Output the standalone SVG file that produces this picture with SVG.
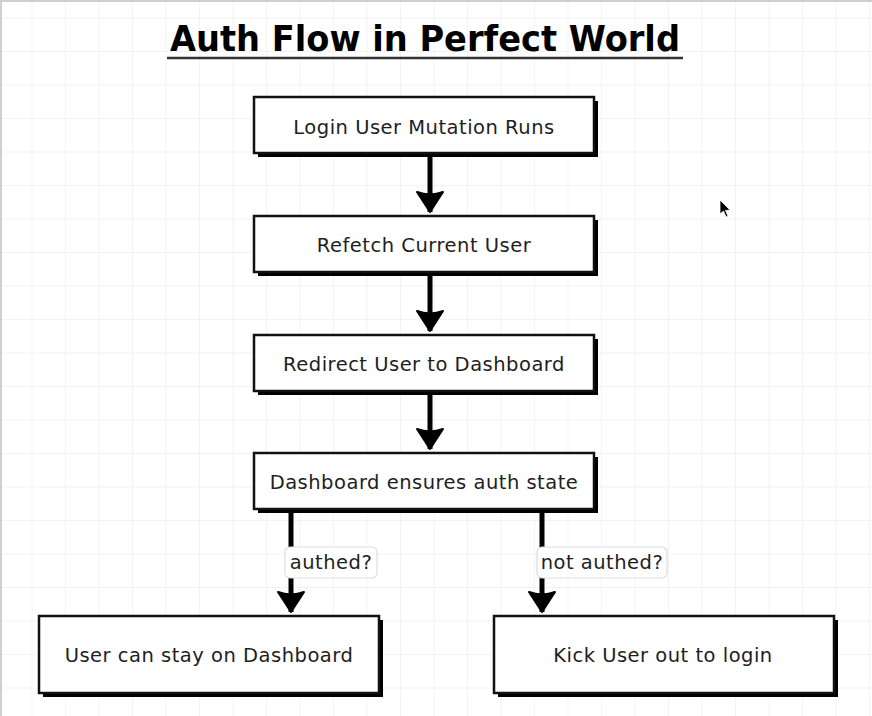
<svg xmlns="http://www.w3.org/2000/svg" width="872" height="716" viewBox="0 0 872 716">
<defs>
<pattern id="grid" x="-1" y="-15" width="33.5" height="33.5" patternUnits="userSpaceOnUse">
<path d="M33.5 0V33.5M0 33.5H33.5" fill="none" stroke="#e8e8e8" stroke-width="1"/>
</pattern>
<marker id="ah2" markerUnits="userSpaceOnUse" markerWidth="26" markerHeight="28" refX="22" refY="14" orient="auto" viewBox="0 0 24 28">
<path d="M2 1 Q7 14 2 27 L22 14 Z" fill="#000" stroke="#000" stroke-width="2" stroke-linejoin="round"/>
</marker>
</defs>
<style>
.sh{fill:#000}
.bx{fill:#fff;stroke:#111;stroke-width:2.5}
.t{font-family:"DejaVu Sans","Liberation Sans",sans-serif;font-size:19.5px;letter-spacing:0.5px;fill:#1e1e1e;text-anchor:middle}
.lb{fill:#fff;stroke:#ddd;stroke-width:1.2}
.ln{fill:none;stroke:#000;stroke-width:5}
</style>
<rect width="872" height="716" fill="#fff"/>
<rect width="872" height="716" fill="url(#grid)"/>
<path d="M1 716V1H872" fill="none" stroke="#cfcfcf" stroke-width="2"/>

<g id="title">
<text x="425" y="51" font-family="'DejaVu Sans','Liberation Sans',sans-serif" font-weight="bold" font-size="35" fill="#000" text-anchor="middle" textLength="510" lengthAdjust="spacingAndGlyphs">Auth Flow in Perfect World</text>
<line x1="167" y1="58" x2="683" y2="58" stroke="#333" stroke-width="2.5"/>
</g>

<g id="connectors">
<path class="ln" d="M430 157V212" marker-end="url(#ah2)"/>
<path class="ln" d="M430 276V331" marker-end="url(#ah2)"/>
<path class="ln" d="M430 395V449" marker-end="url(#ah2)"/>
<path class="ln" d="M291 512V612" marker-end="url(#ah2)"/>
<path class="ln" d="M542 512V612" marker-end="url(#ah2)"/>
<g id="label-authed">
<rect class="lb" x="285" y="547" width="92" height="31" rx="5"/>
<text class="t" x="331" y="569">authed?</text>
</g>
<g id="label-not-authed">
<rect class="lb" x="537" y="547" width="130" height="31" rx="5"/>
<text class="t" x="602" y="569">not authed?</text>
</g>
</g>

<g id="n1">
<rect class="sh" x="258" y="101" width="340" height="56"/>
<rect class="bx" x="254" y="97" width="340" height="56"/>
<text class="t" x="424" y="134">Login User Mutation Runs</text>
</g>
<g id="n2">
<rect class="sh" x="258" y="220" width="340" height="56"/>
<rect class="bx" x="254" y="216" width="340" height="56"/>
<text class="t" x="424" y="252">Refetch Current User</text>
</g>
<g id="n3">
<rect class="sh" x="258" y="339" width="340" height="56"/>
<rect class="bx" x="254" y="335" width="340" height="56"/>
<text class="t" x="424" y="371">Redirect User to Dashboard</text>
</g>
<g id="n4">
<rect class="sh" x="258" y="457" width="340" height="56"/>
<rect class="bx" x="254" y="453" width="340" height="56"/>
<text class="t" x="424" y="489">Dashboard ensures auth state</text>
</g>
<g id="n5">
<rect class="sh" x="43" y="620" width="340" height="77"/>
<rect class="bx" x="39" y="616" width="340" height="77"/>
<text class="t" x="209" y="662">User can stay on Dashboard</text>
</g>
<g id="n6">
<rect class="sh" x="498" y="620" width="340" height="77"/>
<rect class="bx" x="494" y="616" width="340" height="77"/>
<text class="t" x="663" y="662">Kick User out to login</text>
</g>

<g id="cursor">
<path d="M720 200L720 214L723.5 211L726 217L728 216L725.5 210.5L730 210Z" fill="#000" stroke="#fff" stroke-width="0.8"/>
</g>
</svg>
